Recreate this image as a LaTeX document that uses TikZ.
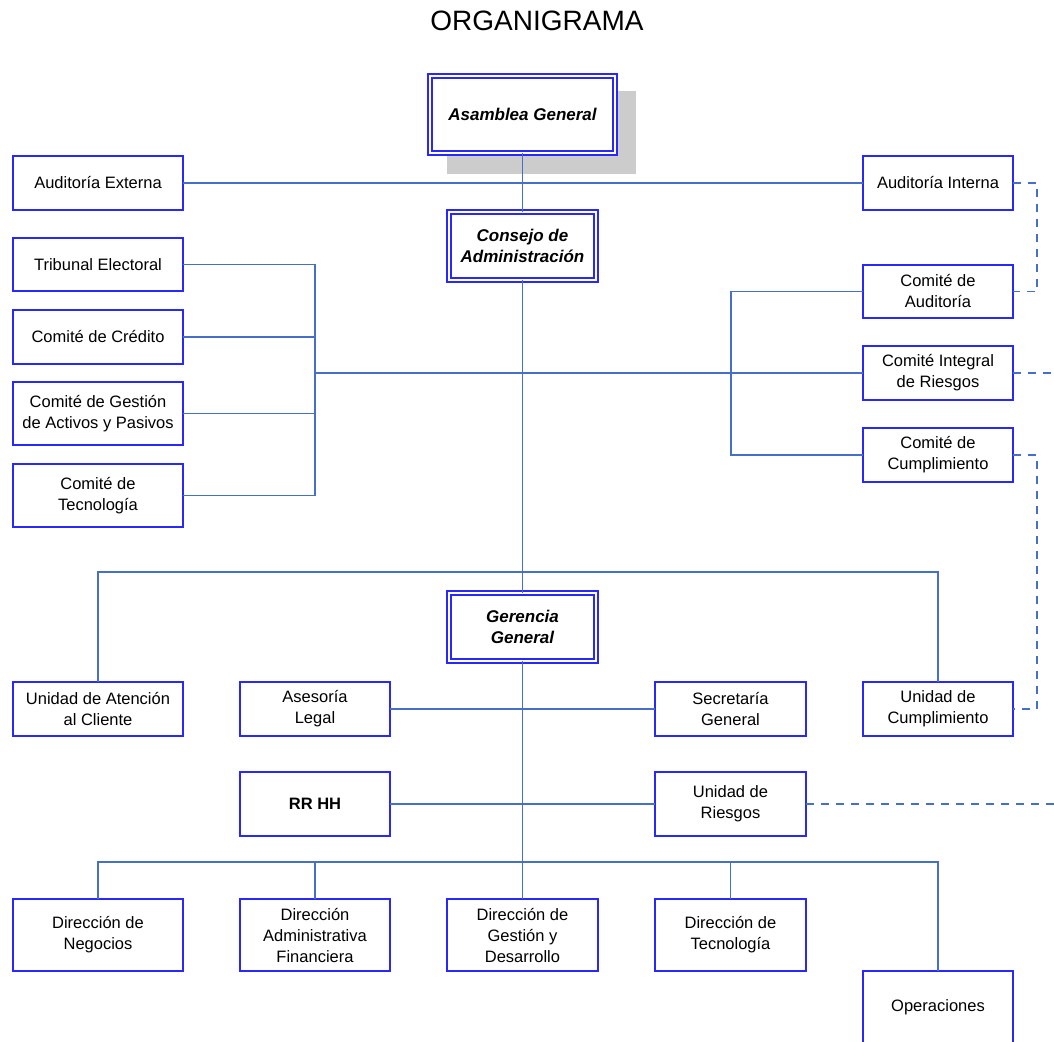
\documentclass[tikz,border=0pt]{standalone}
\usepackage{fontspec}
\setmainfont{Liberation Sans}
\definecolor{boxblue}{RGB}{40,40,250}
\definecolor{linkblue}{RGB}{70,112,200}
\definecolor{shadowgray}{RGB}{204,204,204}
\tikzset{
  orgtext/.style={font=\fontsize{16.5}{21}\selectfont, align=center, text=black},
  plain/.style={orgtext, draw=boxblue, line width=1.3pt, fill=white, inner sep=0pt, outer sep=0pt},
  headbox/.style={orgtext, font=\fontsize{17}{21}\selectfont\bfseries\itshape,
    draw=boxblue, double=white, double distance=2.7pt, line width=1.3pt, fill=white,
    inner sep=0pt, outer sep=0pt},
  conn/.style={draw=linkblue, line width=1.2pt},
  dashconn/.style={draw=linkblue, line width=1.2pt, dash pattern=on 8pt off 7pt},
}
% \orgbox[style]{name}{x1}{y1}{x2}{y2}{text}
\newcommand{\orgbox}[7][plain]{%
  \node[#1, minimum width={#5-#3}, minimum height={#6-#4}] (#2)
    at ({(#3+#5)/2},{(#4+#6)/2}) {#7};}
\begin{document}
\begin{tikzpicture}[x=1pt, y=-1pt]
\useasboundingbox (0,0) rectangle (1054,1041);
\clip (0,0) rectangle (1054,1041);
\fill[white] (0,0) rectangle (1054,1041);

\node[font=\fontsize{28}{32}\selectfont] (title) at (537,21) {ORGANIGRAMA};

% shadow behind the assembly box
\fill[shadowgray] (447,91) rectangle (636,174);

% governing bodies
\orgbox[headbox]{ag}{430}{76}{615}{153}{Asamblea General}
\orgbox[headbox]{ca}{449}{212}{596}{280}{Consejo de\\Administración}
\orgbox[headbox]{gg}{449}{593}{596}{661}{Gerencia\\General}

% left column
\orgbox{ae}{13}{156}{183}{210}{Auditoría Externa}
\orgbox{te}{13}{238}{183}{291}{Tribunal Electoral}
\orgbox{cc}{13}{310}{183}{364}{Comité de Crédito}
\orgbox{cg}{13}{382}{183}{445}{Comité de Gestión\\de Activos y Pasivos}
\orgbox{ct}{13}{464}{183}{527}{Comité de\\Tecnología}

% right column
\orgbox{ai}{863}{156}{1013}{210}{Auditoría Interna}
\orgbox{cau}{863}{265}{1013}{318}{Comité de\\Auditoría}
\orgbox{ci}{863}{346}{1013}{400}{Comité Integral\\de Riesgos}
\orgbox{cu}{863}{428}{1013}{482}{Comité de\\Cumplimiento}

% units under general management
\orgbox{ua}{13}{682}{183}{736}{Unidad de Atención\\al Cliente}
\orgbox{al}{240}{682}{390}{736}{Asesoría\\Legal}
\orgbox{sg}{655}{682}{806}{736}{Secretaría\\General}
\orgbox{uc}{863}{682}{1013}{736}{Unidad de\\Cumplimiento}
\orgbox{rh}{240}{772}{390}{836}{\bfseries RR HH}
\orgbox{ur}{655}{772}{806}{836}{Unidad de\\Riesgos}

% directorates
\orgbox{dn}{13}{899}{183}{971}{Dirección de\\Negocios}
\orgbox{da}{240}{899}{390}{971}{Dirección\\Administrativa\\Financiera}
\orgbox{dg}{447}{899}{598}{971}{Dirección de\\Gestión y\\Desarrollo}
\orgbox{dt}{655}{899}{806}{971}{Dirección de\\Tecnología}
\orgbox{op}{863}{971}{1013}{1043}{Operaciones}

% helper coordinates
\coordinate (lx) at (315,0);
\coordinate (rx) at (731,0);
\coordinate (dx) at (1037,0);
\coordinate (busA) at (522,572);
\coordinate (busB) at (522,862);
\coordinate (ciend) at (1060,373);
\coordinate (urend) at (1060,804);

% main spine
\draw[conn] (ag.south) -- (ca.north);
\draw[conn] (ca.south) -- (gg.north);
\draw[conn] (gg.south) -- (dg.north);

% audit line
\draw[conn] (ae.east) -- (ai.west);

% left committees
\draw[conn] (te.east) -- (te.east -| lx) -- (ct.east -| lx) -- (ct.east);
\draw[conn] (cc.east) -- (cc.east -| lx);
\draw[conn] (cg.east) -- (cg.east -| lx);
\draw[conn] (ci.west -| lx) -- (ci.west);

% right committees
\draw[conn] (cau.west) -- (cau.west -| rx) -- (cu.west -| rx) -- (cu.west);

% dashed reporting lines
\draw[dashconn] (ai.east) -- (ai.east -| dx) -- (cau.east -| dx) -- (cau.east);
\draw[dashconn] (ci.east) -- (ciend);
\draw[dashconn] (cu.east) -- (cu.east -| dx) -- (uc.east -| dx) -- (uc.east);
\draw[dashconn] (ur.east) -- (urend);

% units bus
\draw[conn] (ua.north) -- (ua.north |- busA) -- (uc.north |- busA) -- (uc.north);
\draw[conn] (al.east) -- (sg.west);
\draw[conn] (rh.east) -- (ur.west);

% directorates bus
\draw[conn] (dn.north) -- (dn.north |- busB) -- (op.north |- busB) -- (op.north);
\draw[conn] (da.north) -- (da.north |- busB);
\draw[conn] (dt.north) -- (dt.north |- busB);
\end{tikzpicture}
\end{document}
